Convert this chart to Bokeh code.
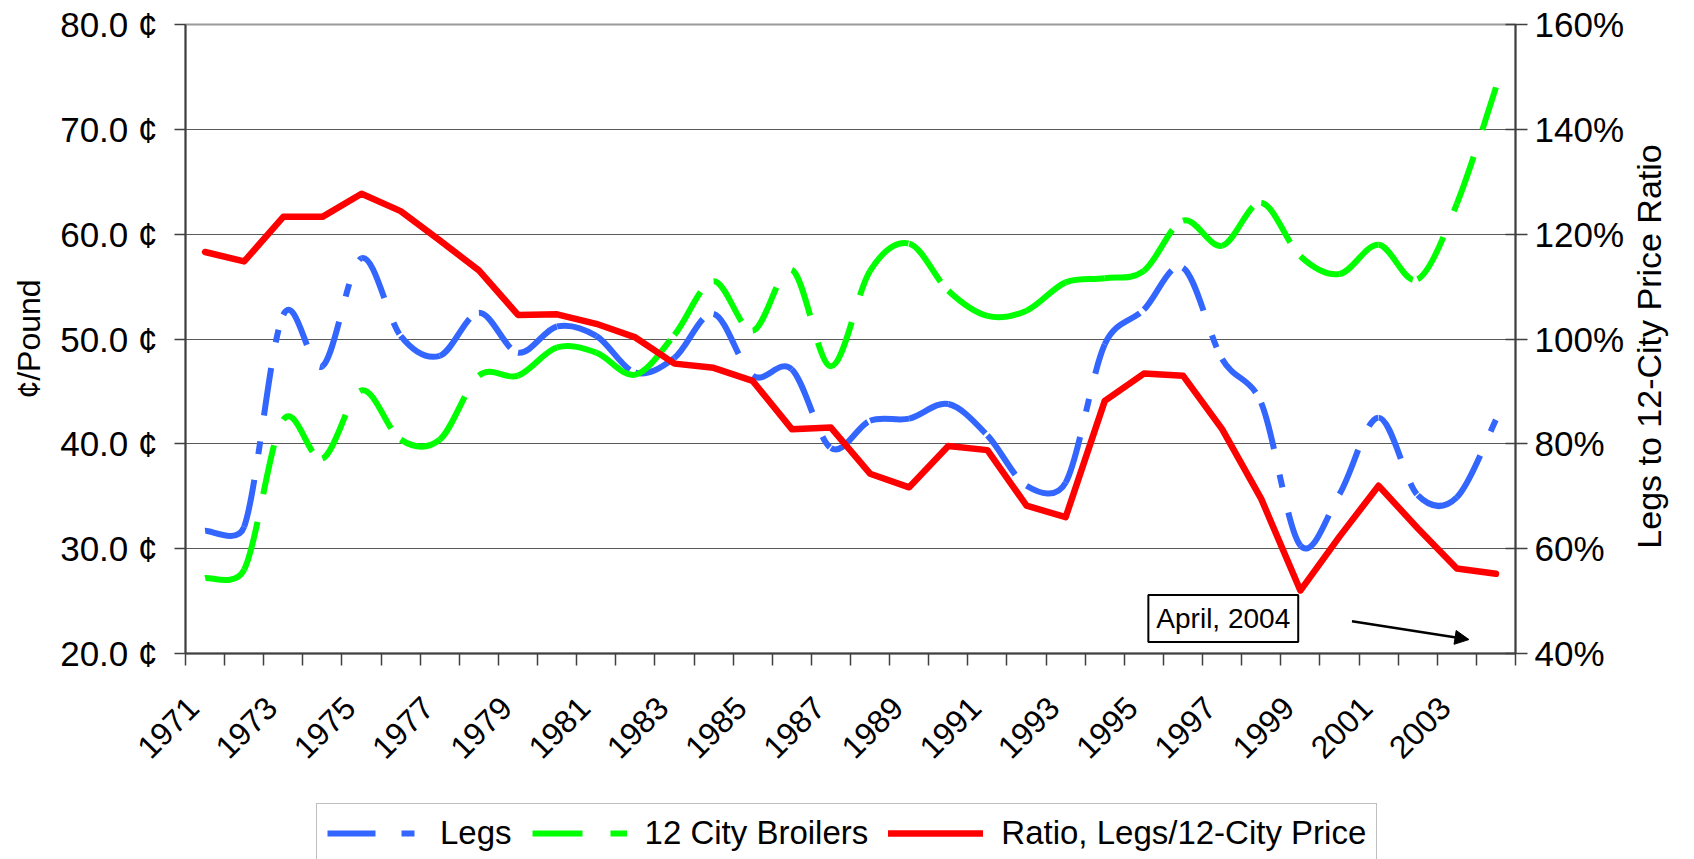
import math
import numpy as np
from bokeh.plotting import figure
from bokeh.layouts import column
from bokeh.models import (Range1d, LinearAxis, FixedTicker, PrintfTickFormatter,
                          Legend, LegendItem, Label, Arrow, NormalHead, ColumnDataSource)
from bokeh.embed import file_html
from bokeh.resources import INLINE

# ---------------- data ----------------
years = list(range(1971, 2005))
legs = [31.7, 32.1, 52.3, 47.4, 57.7, 50.3, 48.4, 52.5, 48.7, 51.2,
        50.3, 46.8, 48.2, 52.4, 46.5, 47.1, 39.6, 42.2, 42.4, 43.8,
        40.8, 36.0, 36.3, 49.5, 52.8, 56.8, 48.1, 43.9, 30.3, 35.2,
        42.5, 35.1, 34.9, 42.3]
broilers = [27.2, 28.0, 42.3, 38.6, 45.1, 40.4, 40.4, 46.5, 46.5, 49.2,
            48.7, 46.6, 50.4, 55.5, 50.8, 56.6, 47.4, 56.5, 59.1, 54.6,
            52.2, 52.7, 55.4, 55.8, 56.5, 61.3, 58.9, 63.0, 57.9, 56.2,
            59.0, 55.7, 62.9, 74.0]
ratio = [116.6, 114.8, 123.3, 123.3, 127.7, 124.4, 118.8, 113.1, 104.6, 104.7,
         102.9, 100.3, 95.3, 94.5, 92.0, 82.8, 83.1, 74.3, 71.7, 79.6,
         78.8, 68.2, 66.0, 88.2, 93.4, 93.0, 82.8, 69.5, 52.0, 62.3,
         72.0, 63.9, 56.2, 55.2]
year_ticks = list(range(1971, 2004, 2))
year_labels = [str(y) for y in year_ticks]
left_ticks = [20, 30, 40, 50, 60, 70, 80]
right_ticks = [40, 60, 80, 100, 120, 140, 160]
series_names = ["Legs", "12 City Broilers", "Ratio, Legs/12-City Price"]
left_title = "¢/Pound"
right_title = "Legs to 12-City Price Ratio"
note_text = "April, 2004"

# ---------------- styling ----------------
FONT = "Liberation Sans"
BLUE, GREEN, RED = "#3366FF", "#00FF00", "#FF0000"
AX = "#404040"
PX_PER_YEAR = 1330.0 / 34.0     # frame width / categories
PX_PER_CENT = 629.0 / 60.0      # frame height / cent range
LABEL_SHIFT = 0.3               # rotated year labels sit left of the category centre
DASH_LEGS = "48 26 13 26"
DASH_BROIL = "50 28"


def smooth_source(xs, ys):
    """Excel-like smoothed line: one cubic Bezier per pair of points,
    Catmull-Rom tangents (tension 1/6) with handles limited to half a segment."""
    x = np.asarray(xs, dtype=float)
    y = np.asarray(ys, dtype=float)
    X, Y = x * PX_PER_YEAR, y * PX_PER_CENT
    Xp = np.concatenate([[X[0]], X, [X[-1]]])
    Yp = np.concatenate([[Y[0]], Y, [Y[-1]]])
    TX, TY = Xp[2:] - Xp[:-2], Yp[2:] - Yp[:-2]
    TL = np.hypot(TX, TY)
    seg = np.hypot(np.diff(X), np.diff(Y))
    f0 = np.minimum(1.0 / 6.0, 0.5 * seg / TL[:-1])
    f1 = np.minimum(1.0 / 6.0, 0.5 * seg / TL[1:])
    return ColumnDataSource(dict(
        x0=x[:-1], y0=y[:-1], x1=x[1:], y1=y[1:],
        cx0=x[:-1] + TX[:-1] * f0 / PX_PER_YEAR,
        cy0=y[:-1] + TY[:-1] * f0 / PX_PER_CENT,
        cx1=x[1:] - TX[1:] * f1 / PX_PER_YEAR,
        cy1=y[1:] - TY[1:] * f1 / PX_PER_CENT,
    ))


p = figure(width=1694, height=790,
           x_range=Range1d(1970.5, 2004.5), y_range=Range1d(20, 80),
           output_backend="svg", toolbar_location=None,
           min_border_left=185, min_border_right=179,
           min_border_top=24, min_border_bottom=137)
p.extra_y_ranges = {"ratio": Range1d(40, 160)}
p.background_fill_color = "white"
p.border_fill_color = "white"
p.outline_line_color = "#9a9a9a"
p.outline_line_width = 2

# grid
p.xgrid.grid_line_color = None
p.ygrid[0].ticker = FixedTicker(ticks=left_ticks)
p.ygrid.grid_line_color = "#5a5a5a"
p.ygrid.grid_line_width = 1

# series
bez = dict(x0="x0", y0="y0", x1="x1", y1="y1", cx0="cx0", cy0="cy0", cx1="cx1", cy1="cy1")
p.bezier(source=smooth_source(years, legs), line_color=BLUE, line_width=6,
         line_dash=DASH_LEGS, **bez)
p.bezier(source=smooth_source(years, broilers), line_color=GREEN, line_width=6,
         line_dash=DASH_BROIL, **bez)
p.line(years, ratio, y_range_name="ratio", line_color=RED, line_width=6.5,
       line_join="round", line_cap="round")

# x axis: tick marks between categories, labels on odd years
label_pos = [round(t - LABEL_SHIFT, 2) for t in year_ticks]
xa = p.xaxis[0]
xa.ticker = FixedTicker(ticks=label_pos,
                        minor_ticks=[y - 0.5 for y in years] + [years[-1] + 0.5])
xa.major_label_overrides = {pos: lab for pos, lab in zip(label_pos, year_labels)}
xa.major_tick_out = 0
xa.major_tick_in = 0
xa.minor_tick_out = 12
xa.minor_tick_in = 0
xa.minor_tick_line_color = AX
xa.minor_tick_line_width = 1.5
xa.axis_line_color = AX
xa.axis_line_width = 2
xa.major_label_orientation = math.pi / 4
xa.major_label_standoff = 37
xa.major_label_text_font = FONT
xa.major_label_text_font_size = "32px"
xa.major_label_text_color = "black"

# left axis
ya = p.yaxis[0]
ya.ticker = FixedTicker(ticks=left_ticks)
ya.formatter = PrintfTickFormatter(format="%.1f ¢")
ya.major_tick_out = 11
ya.major_tick_in = 0
ya.major_tick_line_color = AX
ya.major_tick_line_width = 1.5
ya.axis_line_color = AX
ya.axis_line_width = 2
ya.major_label_standoff = 17
ya.major_label_text_font = FONT
ya.major_label_text_font_size = "35px"
ya.major_label_text_color = "black"
ya.axis_label = left_title
ya.axis_label_text_font = FONT
ya.axis_label_text_font_size = "32px"
ya.axis_label_text_font_style = "normal"
ya.axis_label_text_color = "black"
ya.axis_label_standoff = 10

# right axis (ratio)
ra = LinearAxis(y_range_name="ratio", ticker=FixedTicker(ticks=right_ticks),
                formatter=PrintfTickFormatter(format="%d%%"))
ra.major_tick_out = 12
ra.major_tick_in = 10
ra.major_tick_line_color = AX
ra.major_tick_line_width = 1.5
ra.axis_line_color = AX
ra.axis_line_width = 2
ra.major_label_standoff = 7
ra.major_label_text_font = FONT
ra.major_label_text_font_size = "35px"
ra.major_label_text_color = "black"
p.add_layout(ra, "right")

# right axis title, reading bottom-to-top (placed as a single rotated label)
title_anchor = 60
rt = LinearAxis(y_range_name="ratio", ticker=FixedTicker(ticks=[title_anchor]),
                major_label_overrides={title_anchor: right_title})
rt.axis_line_color = None
rt.major_tick_line_color = None
rt.minor_tick_line_color = None
rt.major_tick_out = 0
rt.major_tick_in = 0
rt.major_label_standoff = 22
rt.major_label_orientation = math.pi / 2
rt.major_label_text_font = FONT
rt.major_label_text_font_size = "34px"
rt.major_label_text_color = "black"
p.add_layout(rt, "right")

# annotation
p.add_layout(Label(x=1997.03, y=23.33, text=note_text, text_align="center",
                   text_baseline="middle", text_font=FONT, text_font_size="28px",
                   text_color="black", border_line_color="black", border_line_width=2,
                   background_fill_color="white", padding=8))
p.add_layout(Arrow(end=NormalHead(size=14, fill_color="black", line_color="black"),
                   x_start=2000.32, y_start=23.07, x_end=2003.31, y_end=21.33,
                   line_color="black", line_width=2.5))

# ---------------- legend strip under the chart ----------------
pl = figure(width=1694, height=69, output_backend="svg", toolbar_location=None,
            x_axis_location=None, y_axis_location=None,
            x_range=Range1d(0, 1), y_range=Range1d(0, 1),
            min_border_left=0, min_border_right=0, min_border_top=0, min_border_bottom=0)
pl.outline_line_color = None
pl.background_fill_color = "white"
pl.border_fill_color = "white"
pl.xgrid.visible = False
pl.ygrid.visible = False
nan = [float("nan")]
k_legs = pl.line(x=nan, y=nan, line_color=BLUE, line_width=6, line_dash=DASH_LEGS)
k_broil = pl.line(x=nan, y=nan, line_color=GREEN, line_width=6, line_dash=DASH_BROIL)
k_ratio = pl.line(x=nan, y=nan, line_color=RED, line_width=6.5, line_cap="round")
legend = Legend(items=[LegendItem(label=series_names[0], renderers=[k_legs]),
                       LegendItem(label=series_names[1], renderers=[k_broil]),
                       LegendItem(label=series_names[2], renderers=[k_ratio])],
                location=(131, -4), orientation="horizontal", margin=0,
                padding=10, spacing=20, glyph_width=95, glyph_height=38,
                label_height=38, label_standoff=18,
                label_text_font=FONT, label_text_font_size="33px",
                label_text_color="black",
                border_line_color="#808080", border_line_width=1.5,
                background_fill_color="white", background_fill_alpha=1.0)
pl.add_layout(legend)

layout = column(p, pl, spacing=0)
open("out.html", "w").write(file_html(layout, INLINE))
